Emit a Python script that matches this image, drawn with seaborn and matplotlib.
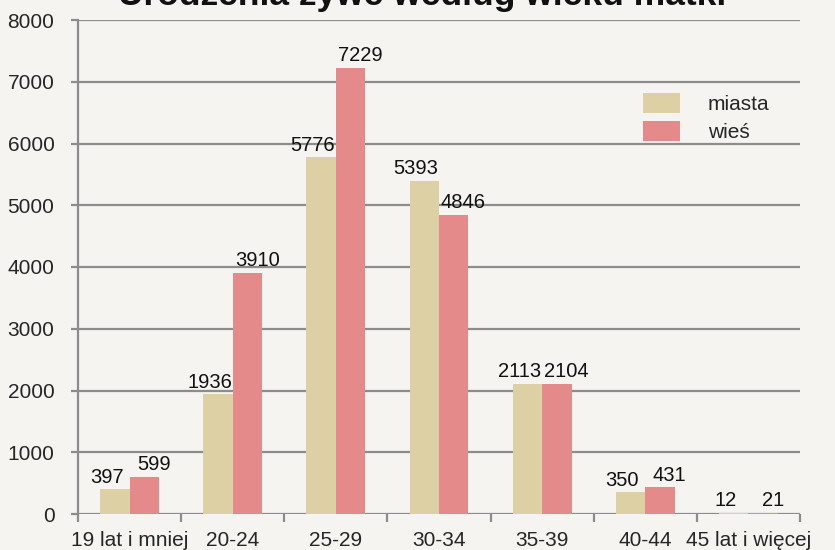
import pandas as pd
import matplotlib.pyplot as plt
import seaborn as sns

# === Data ===
age_groups = ["19 lat i mniej", "20-24", "25-29", "30-34", "35-39", "40-44", "45 lat i więcej"]
miasta = [397, 1936, 5776, 5393, 2113, 350, 12]
wies = [599, 3910, 7229, 4846, 2104, 431, 21]
series_names = ["miasta", "wieś"]

# === Style ===
BG = "#F5F4F0"
GRID = "#8C8C8C"
COLORS = ["#DDD0A4", "#E58A8A"]

sns.set_theme(style="white")
plt.rcParams['font.family'] = ['Liberation Sans', 'DejaVu Sans']

df = pd.DataFrame({
    "grupa": age_groups * 2,
    "seria": [series_names[0]] * len(age_groups) + [series_names[1]] * len(age_groups),
    "liczba": miasta + wies,
})

fig = plt.figure(figsize=(8.35, 5.5), dpi=100, facecolor=BG)
ax = fig.add_axes([78 / 835, 36 / 550, 722 / 835, 494 / 550])
ax.set_facecolor(BG)

sns.barplot(data=df, x="grupa", y="liczba", hue="seria", order=age_groups,
            hue_order=series_names, palette=COLORS, width=0.57,
            saturation=1, edgecolor="none", ax=ax)

# value labels, nudged apart like the original
nudge = [-6, 7]
for cont, dx in zip(ax.containers, nudge):
    for t in ax.bar_label(cont, fmt="%d", padding=2, fontsize=14.5, color="#111111"):
        t.xyann = (dx, 2)

# === Axes ===
ax.set_ylim(0, 8000)
ax.set_xlim(-0.5, len(age_groups) - 0.5)
ax.set_yticks(range(0, 8001, 1000))
ax.yaxis.grid(True, color=GRID, linewidth=1.6)
ax.set_axisbelow(True)
ax.set_xlabel("")
ax.set_ylabel("")

for side in ["top", "right", "bottom"]:
    ax.spines[side].set_visible(False)
ax.spines["left"].set_color(GRID)
ax.spines["left"].set_linewidth(1.6)

ax.tick_params(axis="y", labelsize=15, length=5, color=GRID, width=1.6, left=True, pad=12)
ax.tick_params(axis="x", which="major", labelsize=15, length=0, pad=12)
ax.set_xticks([i - 0.5 for i in range(len(age_groups) + 1)], minor=True)
ax.tick_params(axis="x", which="minor", length=6, color=GRID, width=1.6, bottom=True)

# === Legend ===
leg = ax.legend(loc="upper left", bbox_to_anchor=(0.757, 0.891), frameon=False,
                fontsize=15, handlelength=1.75, handleheight=1.1,
                handletextpad=1.35, labelspacing=0.35)

# title is cut off at the top edge in the original
fig.text(0.506, 1 - 5 / 550, "Urodzenia żywe według wieku matki", ha="center",
         va="baseline", fontsize=25.5, fontweight="bold", color="#111111")

plt.savefig("out.png", dpi=100, facecolor=BG)
